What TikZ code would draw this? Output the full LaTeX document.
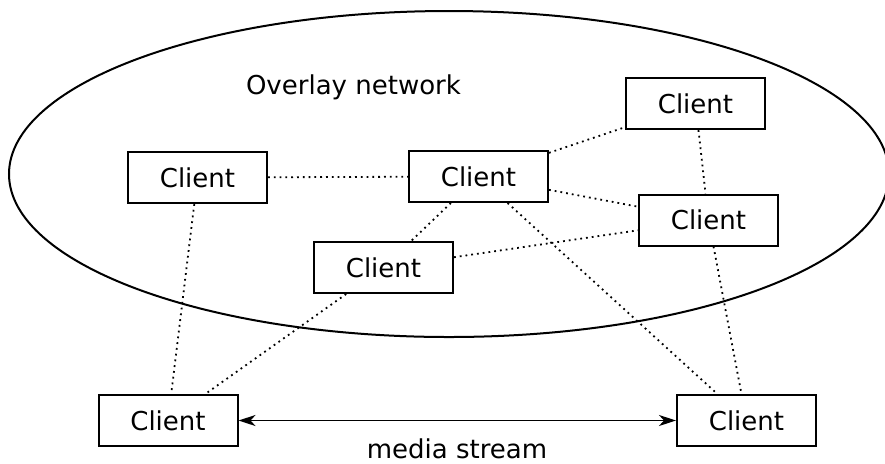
\documentclass[tikz,border=0pt]{standalone}
\usepackage{fontspec}
\setmainfont{DejaVu Sans}
\usetikzlibrary{arrows.meta}

\begin{document}
\begin{tikzpicture}[x=0.5pt,y=-0.5pt,font=\fontsize{13}{15}\selectfont,
        client/.style={draw,line width=1pt,minimum width=69.5pt,minimum height=25.5pt,inner sep=0pt},
        link/.style={line width=0.9pt,dash pattern=on 0.9pt off 2pt},
        tip/.style={line width=0.9pt,{Stealth[length=8.5pt,width=5.5pt,inset=2.5pt]}-{Stealth[length=8.5pt,width=5.5pt,inset=2.5pt]}}]

    \useasboundingbox (0,0) rectangle (885,463);

    % overlay network
    \draw[line width=1pt] (449,174) ellipse [x radius=440, y radius=163];
    \node (ov) at (353.5,87) {Overlay network};

    \node[client] (cl) at (197.5,177.5) {Client};
    \node[client] (ch) at (478.5,176.5) {Client};
    \node[client] (ct) at (695.5,103.5) {Client};
    \node[client] (cr) at (708.5,220) {Client};
    \node[client] (cm) at (383.5,267.5) {Client};
    \node[client] (bl) at (168,420.5) {Client};
    \node[client] (br) at (746.5,420.5) {Client};

    \foreach \a/\b in {cl/ch,ch/ct,ch/cr,ch/cm,ct/cr,cm/cr,cl/bl,cm/bl,ch/br,cr/br}
    \draw[link] (\a) -- (\b);

    % stream between the two end clients
    \draw[tip] (bl) -- (br);
    \node (ms) at (457,449) {media stream};

\end{tikzpicture}
\end{document}
